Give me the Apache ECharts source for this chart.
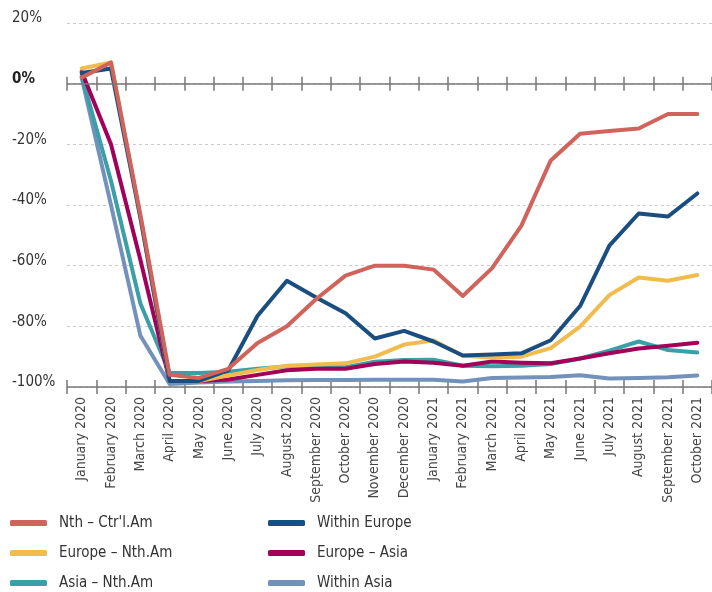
<!DOCTYPE html>
<html>
<head>
<meta charset="utf-8">
<script src="https://cdn.jsdelivr.net/npm/echarts@6/dist/echarts.min.js"></script>
<style>
  html, body { margin: 0; padding: 0; background: #fff; }
  #chart { width: 712px; height: 592px; }
</style>
</head>
<body>
<div id="chart"></div>
<script>
// months on the x axis
const months = [
  'January 2020', 'February 2020', 'March 2020', 'April 2020', 'May 2020', 'June 2020',
  'July 2020', 'August 2020', 'September 2020', 'October 2020', 'November 2020', 'December 2020',
  'January 2021', 'February 2021', 'March 2021', 'April 2021', 'May 2021', 'June 2021',
  'July 2021', 'August 2021', 'September 2021', 'October 2021'
]

// % change vs 2019
const nthCtrlAm = [2, 7, -43, -96, -97, -94, -85.5, -80, -71, -63.3, -60, -60, -61.3, -70, -60.8, -46.8, -25.3, -16.5, -15.6, -14.8, -10, -10]
const withinEurope = [3.5, 5, -44, -98, -98, -94.5, -76.5, -65, -70.5, -75.7, -84, -81.5, -85, -89.6, -89.3, -88.9, -84.6, -73.3, -53.4, -42.8, -43.8, -36.2]
const europeNthAm = [5, 7, -44, -98, -98, -96.2, -94.4, -93, -92.6, -92.2, -90, -86, -84.7, -89.7, -90.3, -90, -87.2, -80.1, -69.7, -63.9, -65, -63.1]
const europeAsia = [4, -20, -58, -98, -98, -97.5, -96, -94.5, -94, -94, -92.4, -91.6, -92, -93, -91.6, -92, -92.2, -90.6, -88.9, -87.3, -86.4, -85.4]
const asiaNthAm = [2.7, -32, -72.4, -95.4, -95.4, -95, -94, -93.2, -93.5, -93.5, -91.7, -91.1, -91, -93, -93.2, -93, -92.4, -90.6, -88, -85, -87.8, -88.6]
const withinAsia = [2, -40, -83, -99, -98.5, -98.2, -98, -97.8, -97.7, -97.7, -97.6, -97.6, -97.6, -98.2, -97, -96.9, -96.7, -96.1, -97.2, -97, -96.8, -96.2]

const legendLeft = ["Nth – Ctr'l.Am", 'Europe – Nth.Am', 'Asia – Nth.Am']
const legendRight = ['Within Europe', 'Europe – Asia', 'Within Asia']

// solid axis lines
const axisLines = [0, -100]

const font = "'Liberation Sans Narrow', 'DejaVu Sans Condensed', sans-serif"
const axisGrey = '#777'

const chart = echarts.init(document.getElementById('chart'))

function line(name, data, color) {
  return {
    name,
    type: 'line',
    data,
    symbol: 'none',
    lineStyle: { width: 4, color, cap: 'round', join: 'round' },
    itemStyle: { color },
    animation: false
  }
}

function legend(data, left) {
  return {
    data,
    orient: 'vertical',
    left,
    top: 515,
    padding: 0,
    itemWidth: 37,
    itemHeight: 6,
    itemGap: 14,
    icon: 'roundRect',
    textStyle: { fontSize: 15, color: '#333', fontFamily: font, lineHeight: 16, padding: [0, 0, 0, 7] }
  }
}

// main plot: top 23, height 364 (20% .. -100%), so 0% is 60.67px below the top
const plotTop = 23
const plotH = 364
const zeroY = plotTop + plotH / 6
const tickHalf = 7

// helper grids whose bottom edge sits tickHalf below / above a line,
// so their ticks cross the 0% and -100% lines
// (axis line kept but transparent, ticks vanish when it is hidden)
function tickAxis(gridIndex, inside) {
  return {
    type: 'category',
    data: months,
    gridIndex,
    position: 'bottom',
    boundaryGap: true,
    axisLine: { show: true, onZero: false, lineStyle: { opacity: 0 } },
    axisTick: { show: true, interval: 0, inside, length: tickHalf * 2, lineStyle: { color: axisGrey, width: 1.5 } },
    axisLabel: { show: false, interval: 0 },
    splitLine: { show: false }
  }
}

const series = [
  line('Within Asia', withinAsia, '#7392bb'),
  line('Asia – Nth.Am', asiaNthAm, '#3a9fa6'),
  line('Europe – Asia', europeAsia, '#a3005a'),
  line('Europe – Nth.Am', europeNthAm, '#f2bb4e'),
  line('Within Europe', withinEurope, '#1b4e80'),
  line("Nth – Ctr'l.Am", nthCtrlAm, '#d0635b')
]
// the 0% and -100% lines sit under the data
series[0].markLine = {
  silent: true,
  symbol: 'none',
  label: { show: false },
  lineStyle: { color: axisGrey, width: 1.5, type: 'solid' },
  data: axisLines.map(v => ({ yAxis: v }))
}

const option = {
  textStyle: { fontFamily: font },
  grid: [
    { left: 67, right: -4, top: plotTop, height: plotH },
    { left: 67, right: -4, top: plotTop, height: zeroY + tickHalf - plotTop },
    { left: 67, right: -4, top: plotTop, height: plotH - tickHalf }
  ],
  xAxis: [
    {
      type: 'category',
      data: months,
      gridIndex: 0,
      position: 'bottom',
      boundaryGap: true,
      axisLine: { show: false, onZero: false },
      axisTick: { show: false },
      axisLabel: {
        rotate: 90,
        margin: 10,
        interval: 0,
        fontSize: 14,
        color: '#444',
        fontFamily: font
      }
    },
    tickAxis(1, true),
    tickAxis(2, false)
  ],
  yAxis: [
    {
      type: 'value',
      gridIndex: 0,
      min: -100,
      max: 20,
      interval: 20,
      axisLine: { show: false },
      axisTick: { show: false },
      splitLine: {
        lineStyle: { color: '#ccc', type: [3, 3], width: 1 }
      },
      axisLabel: {
        align: 'left',
        margin: 55,
        fontSize: 15,
        color: '#333',
        fontFamily: font,
        padding: [0, 0, 9, 0],
        formatter: v => (v === 0 ? '{b|0%}' : v + '%'),
        rich: { b: { fontWeight: 'bold', fontSize: 15, color: '#222', fontFamily: font } }
      }
    },
    { type: 'value', gridIndex: 1, show: false },
    { type: 'value', gridIndex: 2, show: false }
  ],
  legend: [legend(legendLeft, 10), legend(legendRight, 268)],
  series
}

chart.setOption(option)
</script>
</body>
</html>
